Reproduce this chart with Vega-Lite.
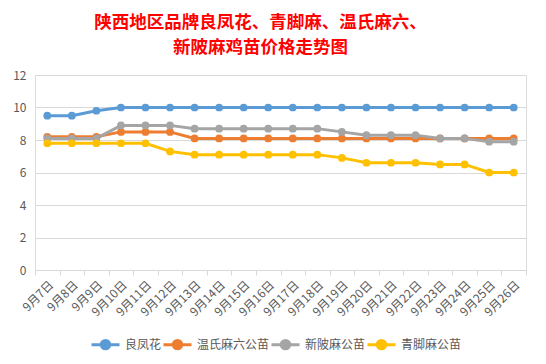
{
  "$schema": "https://vega.github.io/schema/vega-lite/v6.json",
  "width": 491,
  "height": 195,
  "autosize": "none",
  "padding": {"left": 35, "top": 75, "right": 20, "bottom": 94},
  "background": "white",
  "title": {
    "text": ["陕西地区品牌良凤花、青脚麻、温氏麻六、", "新陂麻鸡苗价格走势图"],
    "color": "#FF0000",
    "font": "Noto Sans CJK SC",
    "fontSize": 17.5,
    "fontWeight": "bold",
    "lineHeight": 25,
    "anchor": "middle",
    "dx": -20,
    "offset": 13
  },
  "data": {
    "values": [
      {"d":"9月7日","s":"良凤花","v":9.5},{"d":"9月8日","s":"良凤花","v":9.5},{"d":"9月9日","s":"良凤花","v":9.8},{"d":"9月10日","s":"良凤花","v":10},{"d":"9月11日","s":"良凤花","v":10},{"d":"9月12日","s":"良凤花","v":10},{"d":"9月13日","s":"良凤花","v":10},{"d":"9月14日","s":"良凤花","v":10},{"d":"9月15日","s":"良凤花","v":10},{"d":"9月16日","s":"良凤花","v":10},{"d":"9月17日","s":"良凤花","v":10},{"d":"9月18日","s":"良凤花","v":10},{"d":"9月19日","s":"良凤花","v":10},{"d":"9月20日","s":"良凤花","v":10},{"d":"9月21日","s":"良凤花","v":10},{"d":"9月22日","s":"良凤花","v":10},{"d":"9月23日","s":"良凤花","v":10},{"d":"9月24日","s":"良凤花","v":10},{"d":"9月25日","s":"良凤花","v":10},{"d":"9月26日","s":"良凤花","v":10},
      {"d":"9月7日","s":"温氏麻六公苗","v":8.2},{"d":"9月8日","s":"温氏麻六公苗","v":8.2},{"d":"9月9日","s":"温氏麻六公苗","v":8.2},{"d":"9月10日","s":"温氏麻六公苗","v":8.5},{"d":"9月11日","s":"温氏麻六公苗","v":8.5},{"d":"9月12日","s":"温氏麻六公苗","v":8.5},{"d":"9月13日","s":"温氏麻六公苗","v":8.1},{"d":"9月14日","s":"温氏麻六公苗","v":8.1},{"d":"9月15日","s":"温氏麻六公苗","v":8.1},{"d":"9月16日","s":"温氏麻六公苗","v":8.1},{"d":"9月17日","s":"温氏麻六公苗","v":8.1},{"d":"9月18日","s":"温氏麻六公苗","v":8.1},{"d":"9月19日","s":"温氏麻六公苗","v":8.1},{"d":"9月20日","s":"温氏麻六公苗","v":8.1},{"d":"9月21日","s":"温氏麻六公苗","v":8.1},{"d":"9月22日","s":"温氏麻六公苗","v":8.1},{"d":"9月23日","s":"温氏麻六公苗","v":8.1},{"d":"9月24日","s":"温氏麻六公苗","v":8.1},{"d":"9月25日","s":"温氏麻六公苗","v":8.1},{"d":"9月26日","s":"温氏麻六公苗","v":8.1},
      {"d":"9月7日","s":"新陂麻公苗","v":8.1},{"d":"9月8日","s":"新陂麻公苗","v":8.1},{"d":"9月9日","s":"新陂麻公苗","v":8.1},{"d":"9月10日","s":"新陂麻公苗","v":8.9},{"d":"9月11日","s":"新陂麻公苗","v":8.9},{"d":"9月12日","s":"新陂麻公苗","v":8.9},{"d":"9月13日","s":"新陂麻公苗","v":8.7},{"d":"9月14日","s":"新陂麻公苗","v":8.7},{"d":"9月15日","s":"新陂麻公苗","v":8.7},{"d":"9月16日","s":"新陂麻公苗","v":8.7},{"d":"9月17日","s":"新陂麻公苗","v":8.7},{"d":"9月18日","s":"新陂麻公苗","v":8.7},{"d":"9月19日","s":"新陂麻公苗","v":8.5},{"d":"9月20日","s":"新陂麻公苗","v":8.3},{"d":"9月21日","s":"新陂麻公苗","v":8.3},{"d":"9月22日","s":"新陂麻公苗","v":8.3},{"d":"9月23日","s":"新陂麻公苗","v":8.1},{"d":"9月24日","s":"新陂麻公苗","v":8.1},{"d":"9月25日","s":"新陂麻公苗","v":7.9},{"d":"9月26日","s":"新陂麻公苗","v":7.9},
      {"d":"9月7日","s":"青脚麻公苗","v":7.8},{"d":"9月8日","s":"青脚麻公苗","v":7.8},{"d":"9月9日","s":"青脚麻公苗","v":7.8},{"d":"9月10日","s":"青脚麻公苗","v":7.8},{"d":"9月11日","s":"青脚麻公苗","v":7.8},{"d":"9月12日","s":"青脚麻公苗","v":7.3},{"d":"9月13日","s":"青脚麻公苗","v":7.1},{"d":"9月14日","s":"青脚麻公苗","v":7.1},{"d":"9月15日","s":"青脚麻公苗","v":7.1},{"d":"9月16日","s":"青脚麻公苗","v":7.1},{"d":"9月17日","s":"青脚麻公苗","v":7.1},{"d":"9月18日","s":"青脚麻公苗","v":7.1},{"d":"9月19日","s":"青脚麻公苗","v":6.9},{"d":"9月20日","s":"青脚麻公苗","v":6.6},{"d":"9月21日","s":"青脚麻公苗","v":6.6},{"d":"9月22日","s":"青脚麻公苗","v":6.6},{"d":"9月23日","s":"青脚麻公苗","v":6.5},{"d":"9月24日","s":"青脚麻公苗","v":6.5},{"d":"9月25日","s":"青脚麻公苗","v":6.0},{"d":"9月26日","s":"青脚麻公苗","v":6.0}
    ]
  },
  "mark": {"type": "line", "strokeWidth": 3, "point": {"filled": true, "size": 60}},
  "encoding": {
    "x": {
      "field": "d", "type": "ordinal", "sort": null, "title": null,
      "bandPosition": 0.5,
      "scale": {"type": "band", "paddingInner": 0, "paddingOuter": 0},
      "axis": {
        "labelAngle": -45, "labelColor": "#595959", "labelFontSize": 12,
        "labelFont": "Noto Sans CJK SC", "tickBand": "extent",
        "domainColor": "#D9D9D9", "tickColor": "#D9D9D9", "tickSize": 5,
        "labelPadding": 4, "grid": false
      }
    },
    "y": {
      "field": "v", "type": "quantitative", "title": null,
      "scale": {"domain": [0, 12]},
      "axis": {
        "values": [0, 2, 4, 6, 8, 10, 12], "domain": false, "ticks": false,
        "labelColor": "#595959", "labelFontSize": 12, "labelPadding": 9,
        "gridColor": "#D9D9D9", "labelFont": "Noto Sans CJK SC"
      }
    },
    "color": {
      "field": "s", "type": "nominal", "title": null,
      "scale": {
        "domain": ["良凤花", "温氏麻六公苗", "新陂麻公苗", "青脚麻公苗"],
        "range": ["#5B9BD5", "#ED7D31", "#A5A5A5", "#FFC000"]
      },
      "legend": {
        "orient": "none", "direction": "horizontal", "legendX": 55, "legendY": 254,
        "labelFontSize": 12, "labelColor": "#595959", "labelFont": "Noto Sans CJK SC",
        "symbolType": "M-1,0L1,0M-0.3,0A0.3,0.3 0 1 1 0.3,0A0.3,0.3 0 1 1 -0.3,0",
        "symbolSize": 784, "symbolStrokeWidth": 3, "columnPadding": -10, "labelOffset": 4
      }
    }
  }
}
